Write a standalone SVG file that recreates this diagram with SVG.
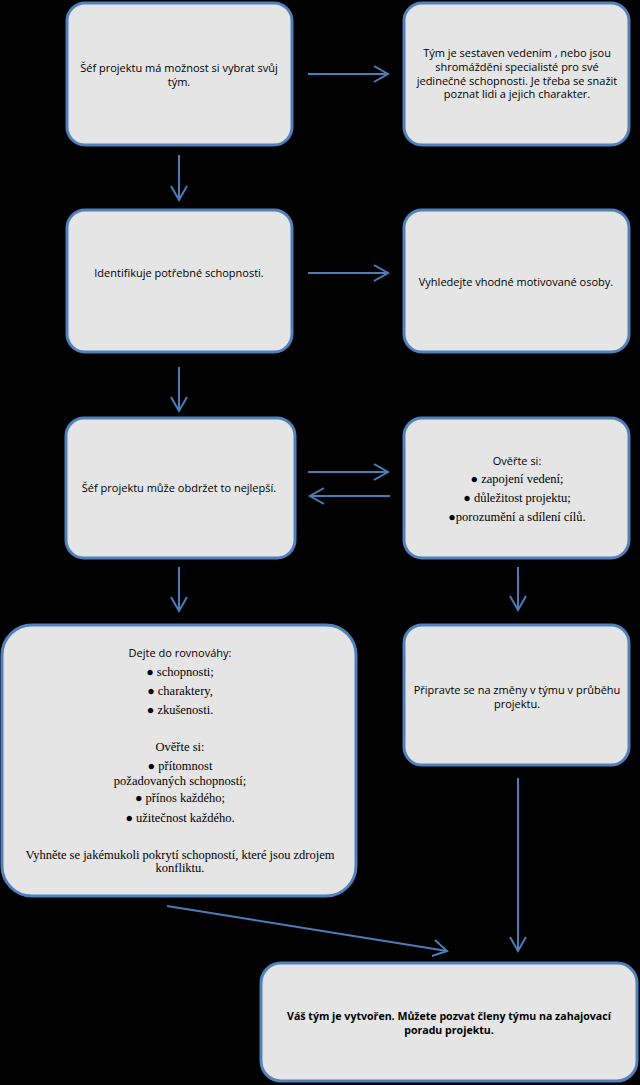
<svg xmlns="http://www.w3.org/2000/svg" width="640" height="1085" viewBox="0 0 640 1085">
<style>
.box{fill:#e5e5e5;stroke:#4f81bd;stroke-width:3}
.t{font-family:"Open Sans","Liberation Sans",sans-serif;font-size:11px;fill:#000;text-anchor:middle}
.s{font-family:"Liberation Serif","DejaVu Serif",serif;font-size:12.5px;fill:#000;text-anchor:middle}
.b{font-weight:bold;font-size:10.6px}
.c line{stroke:#4a7ebb;stroke-width:2;fill:none}
.c polyline{stroke:#4a7ebb;stroke-width:2;fill:none}
</style>
<rect width="640" height="1085" fill="#000"/>
<g id="n1"><rect class="box" x="67" y="3" width="225" height="142" rx="18"/>
<text class="t" x="179" y="72">Šéf projektu má možnost si vybrat svůj</text>
<text class="t" x="179" y="86">tým.</text></g>
<g id="n2"><rect class="box" x="404" y="3" width="225" height="142" rx="18"/>
<text class="t" x="517" y="57">Tým je sestaven vedením , nebo jsou</text>
<text class="t" x="517" y="71">shromážděni specialisté pro své</text>
<text class="t" x="517" y="85">jedinečné schopnosti. Je třeba se snažit</text>
<text class="t" x="517" y="98">poznat lidi a jejich charakter.</text></g>
<g id="n3"><rect class="box" x="67" y="210" width="225" height="142" rx="18"/>
<text class="t" x="179" y="277">Identifikuje potřebné schopnosti.</text></g>
<g id="n4"><rect class="box" x="404" y="210" width="225" height="142" rx="18"/>
<text class="t" x="516" y="286">Vyhledejte vhodné motivované osoby.</text></g>
<g id="n5"><rect class="box" x="66" y="418" width="229" height="140" rx="18"/>
<text class="t" x="179" y="492">Šéf projektu může obdržet to nejlepší.</text></g>
<g id="n6"><rect class="box" x="404" y="418" width="225" height="140" rx="18"/>
<text class="t" x="517" y="465">Ověřte si:</text>
<text class="s" x="517" y="483">● zapojení vedení;</text>
<text class="s" x="517" y="502">● důležitost projektu;</text>
<text class="s" x="517" y="521">●porozumění a sdílení cílů.</text></g>
<g id="n7"><rect class="box" x="2" y="625" width="354" height="271" rx="30"/>
<text class="t" x="180" y="657">Dejte do rovnováhy:</text>
<text class="s" x="180" y="676">● schopnosti;</text>
<text class="s" x="180" y="695">● charaktery,</text>
<text class="s" x="180" y="714">● zkušenosti.</text>
<text class="s" x="180" y="751">Ověřte si:</text>
<text class="s" x="180" y="770">● přítomnost</text>
<text class="s" x="180" y="785">požadovaných schopností;</text>
<text class="s" x="180" y="802">● přínos každého;</text>
<text class="s" x="180" y="822">● užitečnost každého.</text>
<text class="s" x="180" y="859">Vyhněte se jakémukoli pokrytí schopností, které jsou zdrojem</text>
<text class="s" x="180" y="872">konfliktu.</text></g>
<g id="n8"><rect class="box" x="404" y="625" width="225" height="140" rx="18"/>
<text class="t" x="517" y="694">Připravte se na změny v týmu v průběhu</text>
<text class="t" x="517" y="708">projektu.</text></g>
<g id="n9"><rect class="box" x="261" y="963" width="376" height="118" rx="20"/>
<text class="t b" x="449" y="1020">Váš tým je vytvořen. Můžete pozvat členy týmu na zahajovací</text>
<text class="t b" x="449" y="1034">poradu projektu.</text></g>
<g id="connectors" class="c">
<line x1="308" y1="74" x2="388" y2="74"/><polyline points="374,66 388,74 374,82"/>
<line x1="308" y1="273" x2="388" y2="273"/><polyline points="374,265 388,273 374,281"/>
<line x1="308" y1="472" x2="388" y2="472"/><polyline points="374,464 388,472 374,480"/>
<line x1="390" y1="496" x2="310" y2="496"/><polyline points="324,488 310,496 324,504"/>
<line x1="179" y1="155" x2="179" y2="200"/><polyline points="171,186 179,200 187,186"/>
<line x1="179" y1="367" x2="179" y2="411"/><polyline points="171,397 179,411 187,397"/>
<line x1="179" y1="567" x2="179" y2="611"/><polyline points="171,597 179,611 187,597"/>
<line x1="518" y1="567" x2="518" y2="610"/><polyline points="510,596 518,610 526,596"/>
<line x1="518" y1="778" x2="518" y2="951"/><polyline points="510,937 518,951 526,937"/>
<line x1="167" y1="906" x2="447" y2="951"/><polyline points="435,940 447,951 432,956"/>
</g>
</svg>
